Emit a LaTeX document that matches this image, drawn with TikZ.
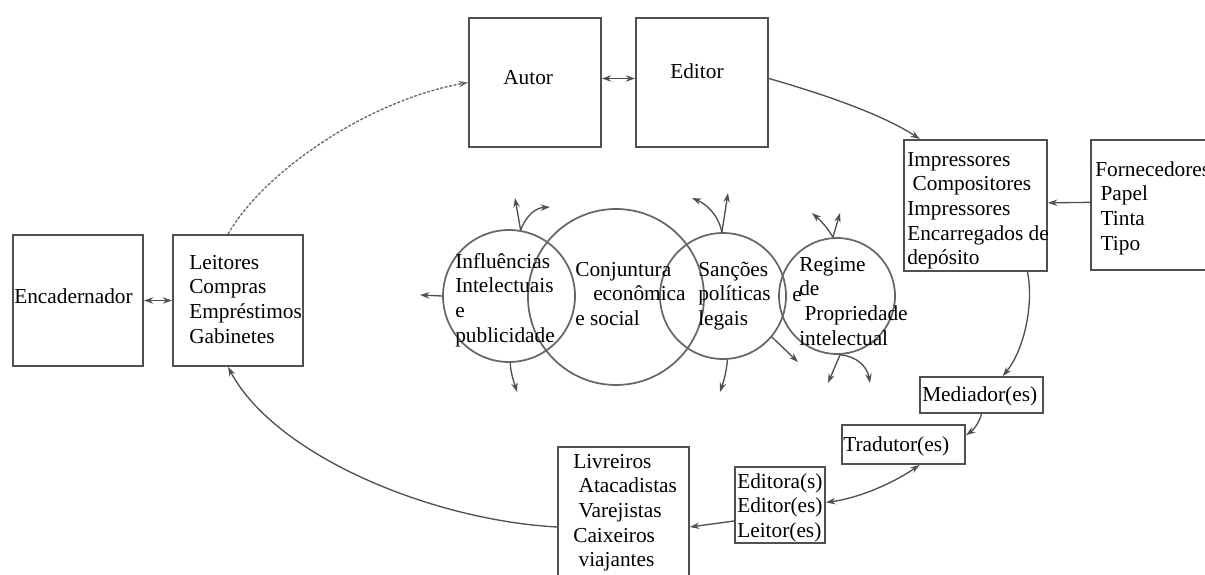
\documentclass[tikz,border=0pt]{standalone}
\usepackage{fontspec}
\setmainfont{Liberation Serif}
\usetikzlibrary{arrows.meta,fit}

\newcommand\bodysize{\fontsize{16}{18.4}\selectfont}
\newcommand\ind{\hspace*{4pt}}

\definecolor{edgegray}{HTML}{505050}
\definecolor{linegray}{HTML}{505050}
\definecolor{ringgray}{HTML}{666666}

\tikzset{
  box/.style={draw=edgegray, line width=1.4pt, inner sep=0pt, rectangle},
  ring/.style={draw=ringgray, line width=1.3pt, circle, inner sep=0pt},
  txt/.style={inner sep=0pt, anchor=north west, align=left, font=\bodysize, text=black},
  link/.style={draw=linegray, line width=1pt},
  oneway/.style={link, -{Stealth[length=7pt,width=4.8pt]}},
  twoway/.style={link, {Stealth[length=7pt,width=4.8pt]}-{Stealth[length=7pt,width=4.8pt]}},
  dotted link/.style={draw=linegray!85, line width=1pt, dash pattern=on 2.2pt off 1.2pt, -{Stealth[length=7pt,width=4.8pt]}}
}

\begin{document}
\begin{tikzpicture}[x=0.75pt, y=-0.75pt]
  \useasboundingbox (0,0) rectangle (1205,574);
  \fill[white] (0,0) rectangle (1205,574);
  \clip (0,0) rectangle (1205,574);

  % boxes of the circuit
  \node[box, fit={(469,18) (601,147)}] (autor) {};
  \node[box, fit={(636,18) (768,147)}] (editor) {};
  \node[box, fit={(904,140) (1047,271)}] (impr) {};
  \node[box, fit={(1091,140) (1220,270)}] (forn) {};
  \node[box, fit={(13,235) (143,366)}] (enc) {};
  \node[box, fit={(173,235) (303,366)}] (leit) {};
  \node[box, fit={(558,447) (689,607)}] (livr) {};
  \node[box, fit={(735,467) (825,543)}] (edit2) {};
  \node[box, fit={(842,425) (965,464)}] (trad) {};
  \node[box, fit={(920,377) (1043,413)}] (med) {};

  % overlapping circles of influence
  \node[ring, minimum size=99pt] (c1) at (509,296) {};
  \node[ring, minimum size=132pt] (c2) at (616,297) {};
  \node[ring, minimum size=94.5pt] (c3) at (723,296) {};
  \node[ring, minimum size=87pt] (c4) at (837,296) {};

  % texts of the boxes
  \node[txt] (tAutor) at (503,67) {\strut Autor};
  \node[txt] (tEditor) at (670,61) {\strut Editor};
  \node[txt] (tImpr) at (907,149) {\strut Impressores\\\ind Compositores\\Impressores\\Encarregados de\\dep\'osito};
  \node[txt] (tForn) at (1095,159) {\strut Fornecedores\\\ind Papel\\\ind Tinta\\\ind Tipo};
  \node[txt] (tEnc) at (14,286) {\strut Encadernador};
  \node[txt] (tLeit) at (189,252) {\strut Leitores\\Compras\\Empr\'estimos\\Gabinetes};
  \node[txt] (tLivr) at (573,451) {\strut Livreiros\\\ind Atacadistas\\\ind Varejistas\\Caixeiros\\\ind viajantes};
  \node[txt] (tEdit2) at (737,471) {\strut Editora(s)\\Editor(es)\\Leitor(es)};
  \node[txt] (tTrad) at (843,434) {\strut Tradutor(es)};
  \node[txt] (tMed) at (922,384) {\strut Mediador(es)};

  % texts of the circles
  \node[txt] (tC1) at (455,251) {\strut Influ\^encias\\Intelectuais\\e\\publicidade};
  \node[txt] (tC2) at (575,259) {\strut Conjuntura\\\hspace*{13.5pt}econ\^omica\\e social};
  \node[txt] (tC3) at (698,259) {\strut San\c{c}\~oes\\pol\'iticas\\legais};
  \node[txt] (tE) at (792,284) {\strut e};
  \node[txt] (tC4) at (799,254) {\strut Regime\\de\\\ind Propriedade\\intelectual};

  % connectors of the circuit
  \draw[twoway] ([yshift=3pt]autor.east) -- ([yshift=3pt]editor.west);
  \draw[oneway] ([yshift=3pt]editor.east) .. controls (830,96) and (885,116) .. (impr.130);
  \draw[oneway] ([yshift=2pt]forn.west) -- ([yshift=2pt]impr.east);
  \draw[oneway] ([xshift=39pt]impr.south) .. controls (1034,305) and (1024,350) .. ([xshift=16pt]med.north);
  \draw[oneway] (med.south) .. controls (979,424) and (972,431) .. ([yshift=7pt]trad.east);
  \draw[twoway] ([yshift=2pt]edit2.east) .. controls (860,498) and (895,482) .. ([xshift=12pt]trad.south);
  \draw[oneway] ([yshift=-12pt]edit2.west) -- (livr.east);
  \draw[oneway] (livr.west) .. controls (430,520) and (275,455) .. ([xshift=-7.5pt]leit.south);
  \draw[twoway] (enc.east) -- (leit.west);
  \draw[dotted link] ([xshift=-7.5pt]leit.north) .. controls (265,170) and (370,100) .. (autor.west);

  % arrows leaving the circles
  \coordinate (c1up) at (515,198);
  \coordinate (c1upr) at (550,207);
  \coordinate (c1left) at (420,295);
  \coordinate (c1down) at (517,392);
  \draw[oneway] (c1.80) -- (c1up);
  \draw[oneway] (c1.80) .. controls (527,214) and (536,208) .. (c1upr);
  \draw[oneway] (c1.180) -- (c1left);
  \draw[oneway] (c1.-89) .. controls (511,375) and (514,382) .. (c1down);

  \coordinate (c3up) at (728,193);
  \coordinate (c3upl) at (692,198);
  \coordinate (c3down) at (720,392);
  \coordinate (c3dr) at (798,362);
  \draw[oneway] (c3.91) -- (c3up);
  \draw[oneway] (c3.91) .. controls (718,214) and (706,204) .. (c3upl);
  \draw[oneway] (c3.-86) .. controls (726,375) and (723,383) .. (c3down);
  \draw[oneway] (c3.-40) -- (c3dr);

  \coordinate (c4up) at (840,213);
  \coordinate (c4upl) at (812,213);
  \coordinate (c4downl) at (828,383);
  \coordinate (c4downr) at (870,383);
  \draw[oneway] (c4.94) -- (c4up);
  \draw[oneway] (c4.94) .. controls (828,228) and (820,220) .. (c4upl);
  \draw[oneway] (c4.-87) -- (c4downl);
  \draw[oneway] (c4.-87) .. controls (856,356) and (867,366) .. (c4downr);
\end{tikzpicture}
\end{document}
